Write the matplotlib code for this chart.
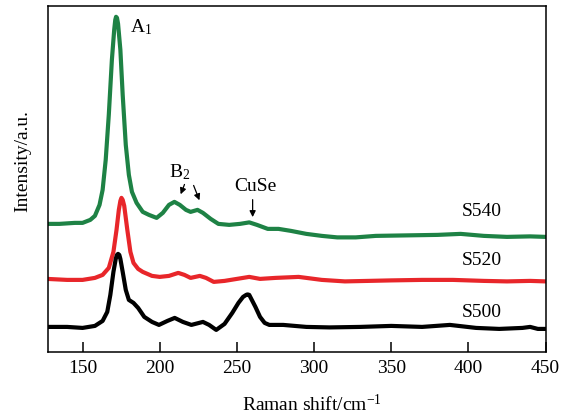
import matplotlib.pyplot as plt
import numpy as np

plt.rcParams['font.family'] = ['Liberation Serif', 'DejaVu Serif']
plt.rcParams['mathtext.fontset'] = 'custom'
plt.rcParams['mathtext.rm'] = 'Liberation Serif'
plt.rcParams['mathtext.it'] = 'Liberation Serif:italic'
plt.rcParams['mathtext.default'] = 'rm'

# Raman spectra (offset already included)
x_s540 = [127, 135, 145, 150, 155, 158, 161, 163, 165, 167, 169, 170.5, 171.2, 171.7, 172.3, 173, 174.5,
          176, 178, 180, 182, 185, 189, 193, 198, 202, 206, 209.5, 213, 217, 220, 224.5,
          228, 233, 238, 245, 252, 258, 263, 270, 277, 285, 295, 305, 315, 327, 340, 360,
          380, 395, 410, 425, 440, 450]
y_s540 = [128, 128, 129, 129, 132, 136, 147, 162, 192, 237, 292, 322, 332, 335, 334, 328, 302,
          257, 207, 177, 160, 149, 140, 137, 134, 139, 147, 150, 147, 142, 140, 142,
          139, 133, 128, 127, 128, 129.5, 127, 123, 123, 121, 118, 116, 114.5, 114.5, 116, 116.5,
          117, 118, 116, 115, 115.5, 115]

x_s520 = [127, 140, 150, 158, 163, 167, 170, 172, 173.5, 174.5, 175.2, 176, 177, 179, 181, 183, 186,
          189, 195, 200, 206, 212, 216, 220, 226, 230, 235, 242, 250, 258, 265, 275, 290,
          305, 320, 335, 350, 370, 390, 410, 425, 440, 450]
y_s520 = [73, 72, 72, 74, 77, 84, 100, 122, 142, 151, 154, 152, 146, 122, 100, 89, 83,
          80, 76, 75, 76, 79, 77, 74, 76, 74, 70, 71, 73, 75, 73, 74, 75,
          72, 70.5, 71, 71.5, 72, 72, 71, 70.5, 71, 70.5]

x_s500 = [127, 140, 150, 158, 163, 166, 168, 170, 171.5, 172.3, 173, 173.8, 174.5, 176, 178, 180, 183,
          186, 190, 195, 199.5, 205, 209.7, 215, 220.5, 228, 232, 236.6, 242, 247, 251, 254,
          256, 256.9, 258, 259, 262, 265, 268, 271, 280, 295, 310, 330, 350, 370, 388, 405, 420,
          435, 440, 445, 450]
y_s500 = [25, 25, 24, 26, 31, 40, 57, 80, 93, 97, 98, 97, 93, 80, 62, 52, 49,
          44, 35, 30, 27, 31, 34, 30, 27, 30, 27, 22, 28, 39, 49, 55,
          57, 57.5, 57, 54, 45, 35, 29, 27, 27, 25, 24.5, 25, 26, 25, 27, 24, 23,
          24, 25, 23, 23]

sample_labels = ['S540', 'S520', 'S500']

fig = plt.figure(figsize=(5.69, 4.15), dpi=100)
ax = fig.add_axes([0.0838, 0.152, 0.875, 0.834])

ax.plot(x_s540, y_s540, color='#1e8245', lw=3.0, solid_joinstyle='round', solid_capstyle='round')
ax.plot(x_s520, y_s520, color='#e8262a', lw=3.0, solid_joinstyle='round', solid_capstyle='round')
ax.plot(x_s500, y_s500, color='black', lw=3.0, solid_joinstyle='round', solid_capstyle='round')

ax.set_xlim(127.4, 449)
ax.set_ylim(0, 346)
ax.set_yticks([])
ax.set_xticks([150, 200, 250, 300, 350, 400, 450])
ax.tick_params(axis='x', direction='in', length=7, width=1.1, labelsize=14, pad=6)
for s in ax.spines.values():
    s.set_linewidth(1.1)

# sample labels
ax.text(395.5, 140, sample_labels[0], fontsize=14, va='center')
ax.text(395.5, 91, sample_labels[1], fontsize=14, va='center')
ax.text(395.5, 39, sample_labels[2], fontsize=14, va='center')

# peak labels
ax.text(180.5, 325, 'A$_1$', fontsize=14, va='center')
ax.text(213, 180, 'B$_2$', fontsize=14, va='center', ha='center')
ax.text(262, 165, 'CuSe', fontsize=14, va='center', ha='center')
arr = dict(arrowstyle='-|>', color='black', lw=0.9, mutation_scale=9)
ax.annotate('', xy=(212.9, 155), xytext=(216.7, 170), arrowprops=arr)
ax.annotate('', xy=(226.4, 149), xytext=(221.3, 169), arrowprops=arr)
ax.annotate('', xy=(260.2, 132), xytext=(260.2, 155), arrowprops=arr)

ax.set_xlabel('Raman shift/cm$^{-1}$', fontsize=14)
ax.set_ylabel('Intensity/a.u.', fontsize=14)
ax.xaxis.set_label_coords(0.53, -0.12)
ax.yaxis.set_label_coords(-0.033, 0.55)

fig.savefig('out.png', dpi=100)
